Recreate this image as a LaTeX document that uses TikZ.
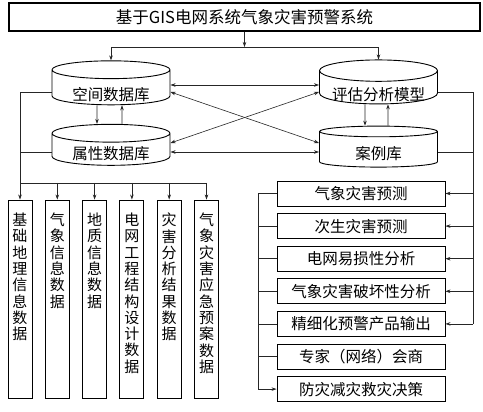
\documentclass[tikz,border=0pt]{standalone}
\usepackage{fontspec}
\newfontfamily\cjk{Noto Sans CJK SC}
\usetikzlibrary{shapes.geometric,arrows.meta,calc}
\newcommand\vcol[1]{\parbox[c][172pt][t]{24pt}{\centering\fontsize{15pt}{16.3pt}\selectfont #1}}
\newcommand\dbtext[2]{\smash{\raisebox{-#1}{#2}}}
\begin{document}
\begin{tikzpicture}[x=1pt,y=-1pt,
  every node/.style={font=\cjk\fontsize{15.5pt}{17pt}\selectfont},
  box/.style={draw,line width=0.9pt,inner sep=0pt},
  db/.style={draw,line width=0.9pt,cylinder,shape border rotate=90,aspect=0.23,minimum width=118pt,minimum height=44pt,inner sep=0pt},
  conn/.style={line width=0.6pt,draw=black!85},
  arr/.style={conn,-{Stealth[length=5pt,width=3.5pt]}},
  darr/.style={conn,{Stealth[length=5pt,width=3.5pt]}-{Stealth[length=5pt,width=3.5pt]}},
  colbox/.style={box,minimum width=24pt,minimum height=198pt},
  rowbox/.style={box,minimum width=168pt,minimum height=25pt}]
\fill[white] (0,0) rectangle (483,412);
\useasboundingbox (0,0) rectangle (483,412);
\node[box,line width=1.1pt,minimum width=471pt,minimum height=28pt,font=\cjk\fontsize{16.5pt}{18pt}\selectfont] (title) at (244.5,17) {基于GIS电网系统气象灾害预警系统};
% databases
\node[db] (spatial) at (111,87.5) {\dbtext{13.4pt}{空间数据库}};
\node[db,minimum height=41pt] (attr) at (111,149.5) {\dbtext{9.9pt}{属性数据库}};
\node[db] (eval) at (378.5,87.5) {\dbtext{13.4pt}{评估分析模型}};
\node[db,minimum height=41pt] (case) at (378.5,149.5) {\dbtext{9.9pt}{案例库}};
% top split
\coordinate (split) at (244.5,47);
\draw[arr] (title.south) -- (split);
\draw[arr] (split) -| (spatial.north);
\draw[arr] (split) -| (eval.north);
% vertical arrows between dbs
\draw[arr] ($(spatial.south)+(-14,0)$) -- ($(attr.north)+(-14,0)$);
\draw[arr] ($(attr.north)+(11,0)$) -- ($(spatial.south)+(11,0)$);
\draw[arr] ($(eval.south)+(-13.5,0)$) -- ($(case.north)+(-13.5,0)$);
\draw[arr] ($(case.north)+(9.5,0)$) -- ($(eval.south)+(9.5,0)$);
% horizontal & diagonal
\draw[darr] ($(spatial.east)+(0,-2.5)$) -- ($(eval.west)+(0,-2.5)$);
\draw[darr] ($(attr.east)+(0,2.5)$) -- ($(case.west)+(0,2.5)$);
\draw[darr] ($(spatial.east)+(0,4.5)$) -- ($(case.west)+(0,-6.5)$);
\draw[darr] ($(attr.east)+(0,-6.5)$) -- ($(eval.west)+(0,4.5)$);
% left column boxes
\node[colbox] (c1) at (20,299) {\vcol{基\\础\\地\\理\\信\\息\\数\\据}};
\node[colbox] (c2) at (57.3,299) {\vcol{气\\象\\信\\息\\数\\据}};
\node[colbox] (c3) at (94.6,299) {\vcol{地\\质\\信\\息\\数\\据}};
\node[colbox] (c4) at (131.9,299) {\vcol{电\\网\\工\\程\\结\\构\\设\\计\\数\\据}};
\node[colbox] (c5) at (169.2,299) {\vcol{灾\\害\\分\\析\\结\\果\\数\\据}};
\node[colbox] (c6) at (206.5,299) {\vcol{气\\象\\灾\\害\\应\\急\\预\\案\\数\\据}};
\coordinate (lj) at (20,183);
\draw[conn] ($(spatial.west)+(0,4.5)$) -| (lj);
\draw[conn] ($(attr.west)+(0,2.5)$) -| (lj);
\draw[conn] (lj) -- (lj -| c6.north);
\foreach \i in {1,...,6} \draw[arr] (lj -| c\i.north) -- (c\i.north);
% right boxes
\node[rowbox] (r1) at (361,193.5) {气象灾害预测};
\node[rowbox] (r2) at (361,226.1) {次生灾害预测};
\node[rowbox] (r3) at (361,258.7) {电网易损性分析};
\node[rowbox] (r4) at (361,291.3) {气象灾害破坏性分析};
\node[rowbox] (r5) at (361,323.9) {精细化预警产品输出};
\node[rowbox] (r6) at (361,356.5) {专家（网络）会商};
\node[rowbox] (r7) at (361,389.1) {防灾减灾救灾决策};
\coordinate (rj) at (473,323.9);
\draw[conn] ($(eval.east)+(0,4.5)$) -| (rj);
\draw[conn] ($(case.east)+(0,2.5)$) -| (rj);
\foreach \i in {1,...,5} \draw[arr] (r\i.east -| rj) -- (r\i.east);
\coordinate (fb) at (258,389.1);
\draw[conn] (r1.west) -| (fb);
\foreach \i in {2,...,6} \draw[conn] (r\i.west) -- (r\i.west -| fb);
\draw[arr] (fb) -- (r7.west);
\end{tikzpicture}
\end{document}
